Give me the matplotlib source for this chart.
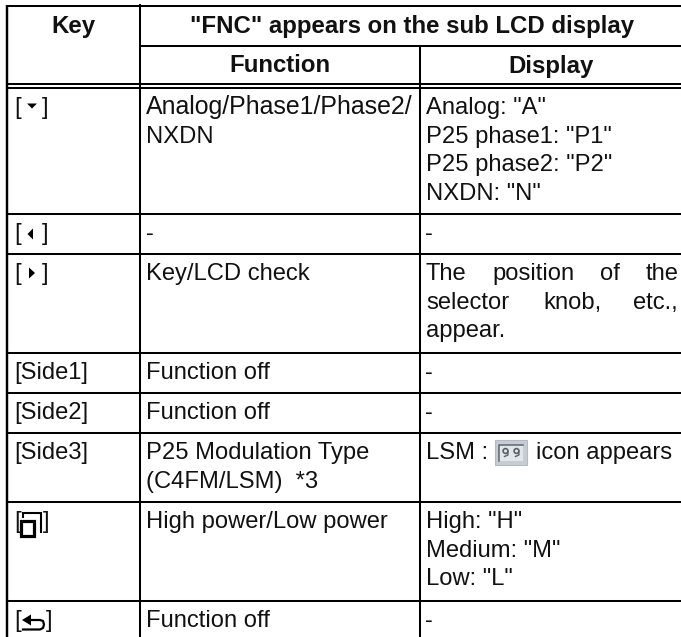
import matplotlib
matplotlib.use('Agg')
import matplotlib.pyplot as plt
from matplotlib.patches import Polygon, Rectangle, Circle, FancyBboxPatch

W, H = 681, 637
plt.rcParams['font.family'] = ['Liberation Sans', 'DejaVu Sans']

# table content
keys = ['[', '[', '[', '[Side1]', '[Side2]', '[Side3]', '[', '[']
key_close = [']', ']', ']', '', '', '', ']', ']']
key_close_x = [48, 48, 48, 0, 0, 0, 49, 52]
functions = [['Analog/Phase1/Phase2/', 'NXDN'], ['-'], ['Key/LCD check'], ['Function off'], ['Function off'],
             ['P25 Modulation Type', '(C4FM/LSM)  *3'], ['High power/Low power'], ['Function off']]
displays = [['Analog: "A"', 'P25 phase1: "P1"', 'P25 phase2: "P2"', 'NXDN: "N"'], ['-'],
            [], ['-'], ['-'], [], ['High: "H"', 'Medium: "M"', 'Low: "L"'], ['-']]
row_lines = [88, 214, 254, 353, 393, 433, 502, 601]

fig = plt.figure(figsize=(W/100, H/100), dpi=100)
ax = fig.add_axes([0, 0, 1, 1])
ax.set_xlim(0, W); ax.set_ylim(H, 0); ax.axis('off')
fs = 17.1
fsb = 17.25
lw = 1.45
LH = 28.6

def hl(y, x0=6, x1=681, w=lw):
    ax.plot([x0, x1], [y, y], color='k', lw=w, solid_capstyle='butt')
def vl(x, y0, y1, w=lw):
    ax.plot([x, x], [y0, y1], color='k', lw=w, solid_capstyle='butt')

hl(6); hl(45.7, 139); hl(83.7); hl(87.7)
for y in row_lines[1:]:
    hl(y)
vl(7.2, 5, 637, 1.75); vl(139.5, 4, 637); vl(420, 45, 637)

T = dict(color='#111111', fontsize=fs, va='baseline')
B = dict(color='#111111', fontsize=fsb, va='baseline', ha='center', fontweight='bold')
ax.text(73.5, 32.5, 'Key', **B)
ax.text(412, 32.5, '"FNC" appears on the sub LCD display', **B)
ax.text(279.5, 72.5, 'Function', **B)
ax.text(551.5, 72.5, 'Display', **B)

for t, k, kc, kx, f, d in zip(row_lines, keys, key_close, key_close_x, functions, displays):
    base = t + 26
    ax.text(14, base, k, **T)
    if kc:
        ax.text(kx, base, kc, ha='right', **T)
    for i, s in enumerate(f):
        style = dict(T)
        if s.startswith('Analog/'):
            style['fontsize'] = 17.9
        ax.text(146, base + i*LH, s, **style)
    for i, s in enumerate(d):
        ax.text(425.5, base + i*LH, s, **T)

# justified display cell
b = row_lines[2] + 26
for x, s, ha in [(426, 'The', 'left'), (492, 'position', 'left'), (600, 'of', 'left'), (678, 'the', 'right')]:
    ax.text(x, b, s, ha=ha, **T)
for x, s, ha in [(426, 'selector', 'left'), (543, 'knob,', 'left'), (678, 'etc.,', 'right')]:
    ax.text(x, b + LH, s, ha=ha, **T)
ax.text(426, b + 2*LH, 'appear.', **T)

# LSM cell
b = row_lines[5] + 26
ax.text(425.5, b, 'LSM :', **T)
ax.text(536, b, 'icon appears', **T)
ax.add_patch(Rectangle((495, 440), 32, 25, fc='#c6ccd4', ec='#b4bac2', lw=0.8))
ax.add_patch(Rectangle((499, 445), 24, 16, fc='#e2e6ea', ec='none'))
ax.plot([499, 499, 523], [461, 445, 445], color='#5e656e', lw=1.1)
for cx in (505.5, 516.5):
    ax.add_patch(Circle((cx, 451), 2.4, fc='none', ec='#59616a', lw=1.2))
    ax.plot([cx + 2.4, cx + 2.4, cx - 1], [451, 455, 456.5], color='#59616a', lw=1.0)

# key glyphs
ax.add_patch(Polygon([(27, 103.5), (37, 103.5), (32, 108.5)], fc='k', ec='none'))
ax.add_patch(Polygon([(33, 228.5), (33, 239.5), (27.5, 234)], fc='k', ec='none'))
ax.add_patch(Polygon([(29, 267.5), (29, 278.5), (35, 273)], fc='k', ec='none'))
# stacked-squares key
ax.plot([23, 23, 40.5, 40.5], [517, 512.5, 512.5, 532], color='k', lw=1.5, solid_joinstyle='miter')
ax.add_patch(Rectangle((20.5, 520.5), 13, 15, fc='white', ec='k', lw=2.3))
# back-arrow key
ax.add_patch(Polygon([(22, 620), (31, 614.5), (31, 625.5)], fc='k', ec='none'))
ax.plot([30, 40, 43, 44, 43, 40, 23], [620, 620, 621, 624.5, 628, 629.5, 629.5], color='k', lw=1.6)

fig.savefig('out.png', dpi=100)
